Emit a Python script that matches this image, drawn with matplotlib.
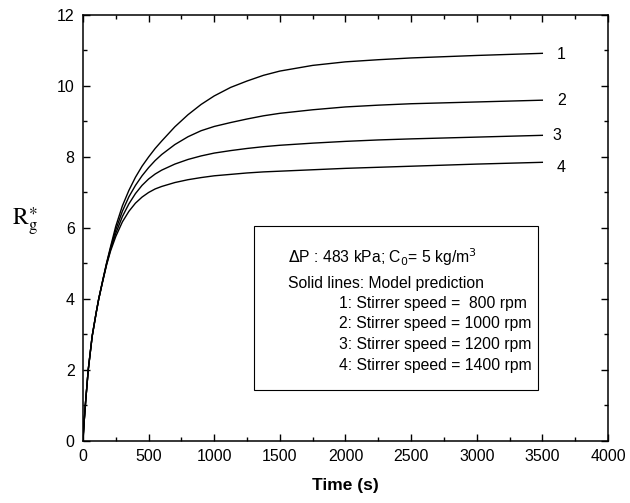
import matplotlib
matplotlib.use('Agg')
import matplotlib.pyplot as plt
from matplotlib.ticker import MultipleLocator

plt.rcParams['font.family'] = ['Liberation Sans', 'DejaVu Sans']
plt.rcParams['mathtext.fontset'] = 'stix'

# time (s) and model curves
time = [0, 10, 20, 40, 70, 100, 120, 150, 180, 210, 250, 300, 350, 400, 450,
        500, 550, 600, 700, 800, 900, 1000, 1125, 1250, 1375, 1500, 1750,
        2000, 2250, 2500, 3000, 3500]
rg_800 = [0, 0.6, 1.1, 2.0, 2.95, 3.6, 4.0, 4.52, 5.02, 5.47, 6.05, 6.62, 7.06,
          7.43, 7.74, 8.0, 8.24, 8.45, 8.85, 9.19, 9.48, 9.72, 9.96, 10.14,
          10.3, 10.42, 10.58, 10.68, 10.74, 10.79, 10.86, 10.92]
rg_1000 = [0, 0.6, 1.1, 2.0, 2.95, 3.6, 4.0, 4.51, 5.0, 5.43, 5.95, 6.47, 6.88,
           7.2, 7.47, 7.7, 7.9, 8.07, 8.35, 8.57, 8.74, 8.86, 8.97, 9.07, 9.16,
           9.23, 9.33, 9.41, 9.46, 9.5, 9.55, 9.6]
rg_1200 = [0, 0.6, 1.1, 2.0, 2.95, 3.6, 4.0, 4.5, 4.98, 5.39, 5.85, 6.32, 6.68,
           6.97, 7.2, 7.38, 7.52, 7.63, 7.8, 7.93, 8.03, 8.11, 8.18, 8.24, 8.29,
           8.33, 8.39, 8.44, 8.48, 8.51, 8.56, 8.61]
rg_1400 = [0, 0.6, 1.1, 2.0, 2.95, 3.6, 4.0, 4.49, 4.96, 5.35, 5.76, 6.17, 6.47,
           6.7, 6.87, 7.0, 7.1, 7.17, 7.28, 7.36, 7.42, 7.47, 7.51, 7.55, 7.58,
           7.6, 7.64, 7.68, 7.71, 7.74, 7.8, 7.85]
curves = [rg_800, rg_1000, rg_1200, rg_1400]
curve_labels = ['1', '2', '3', '4']
label_y = [10.9, 9.59, 8.6, 7.69]
label_x = [3610, 3610, 3580, 3610]

head_lines = [r'$\Delta$P : 483 kPa; C$_0$= 5 kg/m$^3$',
              'Solid lines: Model prediction']
speed_lines = ['1: Stirrer speed =  800 rpm',
               '2: Stirrer speed = 1000 rpm',
               '3: Stirrer speed = 1200 rpm',
               '4: Stirrer speed = 1400 rpm']

fig = plt.figure(figsize=(6.3, 5.03), dpi=100)
ax = fig.add_axes([0.1317, 0.1233, 0.8333, 0.8469])

for ys in curves:
    ax.plot(time, ys, color='black', lw=1.0)
for lab, lx, ly in zip(curve_labels, label_x, label_y):
    ax.text(lx, ly, lab, fontsize=11.5, va='center', ha='left')

ax.set_xlim(0, 4000)
ax.set_ylim(0, 12)
ax.xaxis.set_major_locator(MultipleLocator(500))
ax.xaxis.set_minor_locator(MultipleLocator(250))
ax.yaxis.set_major_locator(MultipleLocator(2))
ax.yaxis.set_minor_locator(MultipleLocator(1))
ax.tick_params(which='both', direction='in', top=True, right=True, labelsize=11.5)
ax.tick_params(which='major', length=5, width=1.0, pad=6)
ax.tick_params(which='minor', length=3, width=1.0)
for sp in ax.spines.values():
    sp.set_linewidth(1.1)

ax.set_xlabel('Time (s)', fontsize=12.5, fontweight='bold', labelpad=10)
fig.text(0.04, 0.558, r'$\mathrm{R}_{\mathrm{g}}^{\ast}$', fontsize=17,
         ha='center', va='center')

# annotation box
ax.add_patch(plt.Rectangle((1303, 1.44), 2164, 4.62, fill=False, lw=0.8,
                           edgecolor='black'))
ax.text(1562, 5.17, head_lines[0], fontsize=11.3, va='center', ha='left',
        math_fontfamily='dejavusans')
ax.text(1562, 4.45, head_lines[1], fontsize=11.3, va='center', ha='left')
for i, line in enumerate(speed_lines):
    ax.text(1950, 3.88 - i * 0.58, line, fontsize=11.3, va='center', ha='left')

fig.savefig('out.png', dpi=100)
